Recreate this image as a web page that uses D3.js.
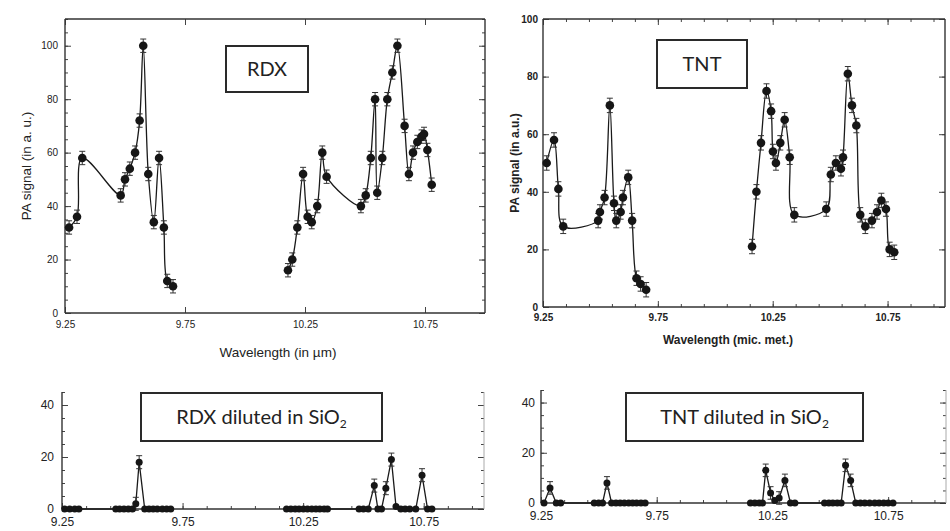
<!DOCTYPE html>
<html>
<head>
<meta charset="utf-8">
<script src="https://cdn.jsdelivr.net/npm/d3@7"></script>
<style>
body { margin: 0; background: #fff; }
svg { display: block; font-family: "Liberation Sans", Arial, sans-serif; }
</style>
</head>
<body>
<script>
var w = 950;
var h = 531;

// x axis ticks (wavelength, µm)
var xTicks = [9.25, 9.75, 10.25, 10.75];
var xTickLabels = ["9.25", "9.75", "10.25", "10.75"];

// RDX (pure)
var rdxWl = [9.267, 9.300, 9.322, 9.482, 9.500, 9.520, 9.542, 9.561, 9.576, 9.597, 9.620, 9.642, 9.662, 9.676, 9.700,
             10.179, 10.197, 10.218, 10.242, 10.261, 10.278, 10.301, 10.322, 10.340, 10.483, 10.503, 10.524, 10.542,
             10.551, 10.572, 10.593, 10.614, 10.635, 10.665, 10.683, 10.700, 10.718, 10.736, 10.746, 10.760, 10.778];
var rdxPa = [32, 36, 58, 44, 50, 54, 60, 72, 100, 52, 34, 58, 32, 12, 10,
             16, 20, 32, 52, 36, 34, 40, 60, 51, 40, 44, 58, 80,
             45, 58, 80, 90, 100, 70, 52, 60, 64, 66, 67, 61, 48];

// TNT (pure)
var tntWl = [9.266, 9.298, 9.317, 9.338, 9.490, 9.498, 9.518, 9.541, 9.559, 9.569, 9.588, 9.598, 9.621, 9.638, 9.657, 9.675, 9.699,
             10.160, 10.179, 10.199, 10.223, 10.243, 10.251, 10.264, 10.283, 10.302, 10.324, 10.344, 10.483, 10.503,
             10.525, 10.547, 10.556, 10.577, 10.595, 10.614, 10.631, 10.653, 10.682, 10.704, 10.723, 10.743, 10.759, 10.779];
var tntPa = [50, 58, 41, 28, 30, 33, 38, 70, 36, 30, 33, 38, 45, 30, 10, 8, 6,
             21, 40, 57, 75, 68, 54, 50, 57, 65, 52, 32, 34, 46,
             50, 48, 52, 81, 70, 63, 32, 28, 30, 33, 37, 34, 20, 19];

// RDX diluted in SiO2
var rdxDilWl = [9.261, 9.282, 9.303, 9.320,
                9.473, 9.489, 9.507, 9.525, 9.542, 9.556, 9.570, 9.593, 9.611, 9.628, 9.645, 9.666, 9.684, 9.701,
                10.181, 10.199, 10.217, 10.233, 10.251, 10.268, 10.286, 10.303, 10.319, 10.337, 10.351,
                10.482, 10.500, 10.520, 10.545, 10.560, 10.575, 10.593, 10.616, 10.635, 10.655, 10.673, 10.692, 10.717,
                10.743, 10.766, 10.784];
var rdxDilPa = [0, 0, 0, 0,
                0, 0, 0, 0, 0, 2, 18, 0, 0, 0, 0, 0, 0, 0,
                0, 0, 0, 0, 0, 0, 0, 0, 0, 0, 0,
                0, 0, 0, 9, 0, 0, 8, 19, 1, 0, 0, 0, 0,
                13, 0, 0];

// TNT diluted in SiO2
var tntDilWl = [9.263, 9.289, 9.316, 9.335,
                9.480, 9.499, 9.516, 9.535, 9.555, 9.574, 9.592, 9.610, 9.629, 9.646, 9.663, 9.682, 9.700,
                10.155, 10.174, 10.193, 10.207, 10.221, 10.242, 10.260, 10.279, 10.304, 10.328, 10.347,
                10.475, 10.494, 10.511, 10.530, 10.547, 10.566, 10.588, 10.610, 10.630, 10.649, 10.670, 10.692,
                10.711, 10.731, 10.750, 10.771];
var tntDilPa = [0, 6, 0, 0,
                0, 0, 0, 8, 0, 0, 0, 0, 0, 0, 0, 0, 0,
                0, 0, 0, 0, 13, 4, 1, 2, 9, 0, 0,
                0, 0, 0, 0, 0, 15, 9, 0, 0, 0, 0, 0,
                0, 0, 0, 0];

var svg = d3.select("body")
        .append("svg")
        .attr("width", w)
        .attr("height", h);

// split a series where wavelength jumps (no measurement in between)
function segments(xs, ys) {
    var out = [], cur = [];
    xs.forEach(function (xv, i) {
        if (i > 0 && xv - xs[i - 1] > 0.2) {
            out.push(cur);
            cur = [];
        }
        cur.push([xv, ys[i]]);
    });
    out.push(cur);
    return out;
}

function drawPanel(p) {
    var x = d3.scaleLinear().domain([9.25, 11.0]).range([p.left, p.right]);
    var y = d3.scaleLinear().domain([0, p.ymax]).range([p.bottom, p.top]);
    var g = svg.append("g");

    // minor ticks
    var xMinor = d3.range(9.25, 11.0, p.xMinorStep);
    var yMinor = d3.range(0, p.ymax + 0.01, p.yMinorStep);
    g.append("g")
            .attr("transform", "translate(0," + p.bottom + ")")
            .call(d3.axisBottom(x).tickValues(xMinor).tickSize(-3).tickFormat(""));
    g.append("g")
            .attr("transform", "translate(" + p.left + ",0)")
            .call(d3.axisLeft(y).tickValues(yMinor).tickSize(-3).tickFormat(""));
    g.append("g")
            .attr("transform", "translate(" + p.right + ",0)")
            .call(d3.axisRight(y).tickValues(yMinor).tickSize(-3).tickFormat(""));
    if (p.frame) {
        g.append("g")
                .attr("transform", "translate(0," + p.top + ")")
                .call(d3.axisTop(x).tickValues(xMinor).tickSize(-3).tickFormat(""));
    }

    // major ticks + labels
    var xa = g.append("g")
            .attr("transform", "translate(0," + p.bottom + ")")
            .call(d3.axisBottom(x).tickValues(xTicks).tickSize(-6)
                    .tickPadding(p.xPad)
                    .tickFormat(function (d, i) { return xTickLabels[i]; }));
    var ya = g.append("g")
            .attr("transform", "translate(" + p.left + ",0)")
            .call(d3.axisLeft(y).tickValues(p.yTicks).tickSize(-6).tickPadding(p.yPad));
    g.append("g")
            .attr("transform", "translate(" + p.right + ",0)")
            .call(d3.axisRight(y).tickValues(p.yTicks).tickSize(-6).tickFormat(""));
    if (p.frame) {
        g.append("g")
                .attr("transform", "translate(0," + p.top + ")")
                .call(d3.axisTop(x).tickValues(xTicks).tickSize(-6).tickFormat(""));
    }
    g.selectAll(".domain").remove();
    g.selectAll(".tick line").attr("stroke", "#444");
    xa.selectAll("text").style("font-size", p.tickFont).style("font-weight", p.tickWeight).attr("fill", "#222");
    ya.selectAll("text").style("font-size", p.tickFont).style("font-weight", p.tickWeight).attr("fill", "#222");

    // frame
    g.append("line").attr("x1", p.left).attr("x2", p.left).attr("y1", p.top).attr("y2", p.bottom)
            .attr("stroke", "#333").attr("stroke-width", 1.4);
    g.append("line").attr("x1", p.left).attr("x2", p.right).attr("y1", p.bottom).attr("y2", p.bottom)
            .attr("stroke", "#333").attr("stroke-width", 1.4);
    g.append("line").attr("x1", p.right).attr("x2", p.right).attr("y1", p.top).attr("y2", p.bottom)
            .attr("stroke", p.frame ? "#333" : "#aaa").attr("stroke-width", p.frame ? 1.4 : 1);
    if (p.frame) {
        g.append("line").attr("x1", p.left).attr("x2", p.right).attr("y1", p.top).attr("y2", p.top)
                .attr("stroke", "#333").attr("stroke-width", 1.4);
    }

    // data line
    var line = d3.line()
            .x(function (d) { return x(d[0]); })
            .y(function (d) { return y(d[1]); })
            .curve(p.smooth ? d3.curveCatmullRom.alpha(0.5) : d3.curveLinear);
    segments(p.wl, p.pa).forEach(function (seg) {
        g.append("path")
                .attr("d", line(seg))
                .attr("fill", "none")
                .attr("stroke", "#1a1a1a")
                .attr("stroke-width", 1.3);
    });

    var pts = p.wl.map(function (d, i) { return [d, p.pa[i]]; });

    // error bars
    var eb = g.selectAll(".eb")
            .data(pts.filter(function (d) { return d[1] > 1.5; }))
            .enter()
            .append("g");
    eb.append("line")
            .attr("x1", function (d) { return x(d[0]); })
            .attr("x2", function (d) { return x(d[0]); })
            .attr("y1", function (d) { return y(d[1] - p.err); })
            .attr("y2", function (d) { return y(d[1] + p.err); })
            .attr("stroke", "#333");
    [-1, 1].forEach(function (s) {
        eb.append("line")
                .attr("x1", function (d) { return x(d[0]) - 3; })
                .attr("x2", function (d) { return x(d[0]) + 3; })
                .attr("y1", function (d) { return y(d[1] + s * p.err); })
                .attr("y2", function (d) { return y(d[1] + s * p.err); })
                .attr("stroke", "#333");
    });

    g.selectAll("circle")
            .data(pts)
            .enter()
            .append("circle")
            .attr("cx", function (d) { return x(d[0]); })
            .attr("cy", function (d) { return y(d[1]); })
            .attr("r", p.r)
            .style("fill", "#161616");

    // label box
    var b = p.box;
    g.append("rect")
            .attr("x", b.x).attr("y", b.y).attr("width", b.w).attr("height", b.h)
            .attr("fill", "#fff").attr("stroke", "#2a2a2a").attr("stroke-width", 2);
    var t = g.append("text")
            .attr("x", b.x + b.w / 2)
            .attr("y", b.y + b.h / 2 + 7)
            .attr("text-anchor", "middle")
            .style("font-family", "Lato, 'Open Sans', sans-serif")
            .style("font-size", "20px")
            .attr("fill", "#222");
    t.append("tspan").text(b.text);
    if (b.sub) {
        t.append("tspan").text(b.sub)
                .attr("dy", 4)
                .style("font-size", "12px");
    }

    // axis titles
    if (p.yTitle) {
        svg.append("text")
                .attr("transform", "translate(" + p.yTitleX + "," + ((p.top + p.bottom) / 2) + ") rotate(-90)")
                .attr("text-anchor", "middle")
                .style("font-size", p.titleFont)
                .style("font-weight", p.tickWeight)
                .attr("fill", "#222")
                .text(p.yTitle);
    }
    if (p.xTitle) {
        svg.append("text")
                .attr("x", p.xTitleX)
                .attr("y", p.xTitleY)
                .attr("text-anchor", "middle")
                .style("font-size", p.titleFont)
                .style("font-weight", p.tickWeight)
                .attr("fill", "#222")
                .text(p.xTitle);
    }
}

drawPanel({
    wl: rdxWl, pa: rdxPa,
    left: 65, right: 485, top: 19, bottom: 313, ymax: 110,
    yTicks: [0, 20, 40, 60, 80, 100], yMinorStep: 5, xMinorStep: 0.5,
    frame: true, smooth: true, r: 4.3, err: 2.5,
    xPad: 8, yPad: 7, tickFont: "10px", tickWeight: "normal", titleFont: "13.5px",
    yTitle: "PA signal (in a. u.)", yTitleX: 31,
    xTitle: "Wavelength (in \u00b5m)", xTitleX: 278, xTitleY: 357,
    box: {x: 226, y: 46, w: 82, h: 46, text: "RDX"}
});

drawPanel({
    wl: tntWl, pa: tntPa,
    left: 543, right: 945, top: 19, bottom: 307, ymax: 100,
    yTicks: [0, 20, 40, 60, 80, 100], yMinorStep: 20, xMinorStep: 0.1,
    frame: true, smooth: true, r: 4.3, err: 2.5,
    xPad: 7, yPad: 5, tickFont: "10px", tickWeight: "bold", titleFont: "12px",
    yTitle: "PA signal (in a.u.)", yTitleX: 519,
    xTitle: "Wavelength (mic. met.)", xTitleX: 728, xTitleY: 344,
    box: {x: 657, y: 40, w: 90, h: 48, text: "TNT"}
});

drawPanel({
    wl: rdxDilWl, pa: rdxDilPa,
    left: 62, right: 484, top: 392, bottom: 509, ymax: 45,
    yTicks: [0, 20, 40], yMinorStep: 5, xMinorStep: 0.1,
    frame: false, smooth: false, r: 3.5, err: 2.5,
    xPad: 8, yPad: 8, tickFont: "12px", tickWeight: "normal", titleFont: "13px",
    box: {x: 141, y: 393, w: 241, h: 48, text: "RDX diluted in SiO", sub: "2"}
});

drawPanel({
    wl: tntDilWl, pa: tntDilPa,
    left: 541, right: 946, top: 390, bottom: 503, ymax: 45,
    yTicks: [0, 20, 40], yMinorStep: 5, xMinorStep: 0.1,
    frame: false, smooth: false, r: 3.5, err: 2.5,
    xPad: 8, yPad: 6, tickFont: "12px", tickWeight: "normal", titleFont: "13px",
    box: {x: 626, y: 393, w: 237, h: 48, text: "TNT diluted in SiO", sub: "2"}
});
</script>
</body>
</html>
